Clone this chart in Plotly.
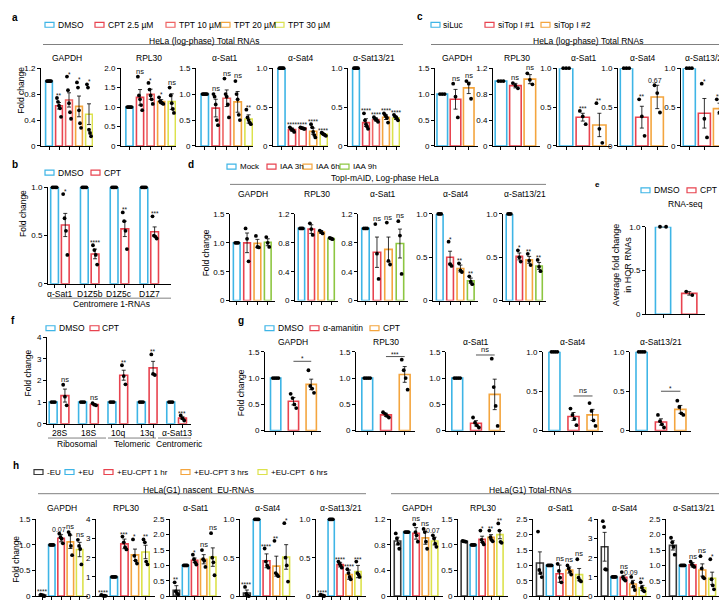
import plotly.graph_objects as go

W, H = 727, 602
FONT = "Liberation Sans, Arial, Helvetica, sans-serif"

BLUE = "#3EB5E6"
RED = "#E8434F"
SALMON = "#EF6464"
ORANGE = "#F4A53E"
YELLOW = "#DCE24C"
GREEN = "#8DC641"
GREY = "#3A3A3A"

GENES5 = ["GAPDH", "RPL30", "α-Sat1", "α-Sat4", "α-Sat13/21"]

# ---------------- panel a ----------------
A_LABELS = ["DMSO", "CPT 2.5 µM", "TPT 10 µM", "TPT 20 µM", "TPT 30 µM"]
A_YTICKS = [[0, 0.4, 0.8, 1.2], [0, 0.5, 1, 1.5, 2], [0, 0.5, 1, 1.5], [0, 0.5, 1], [0, 0.5, 1]]
A_MEAN = [
    [1.00, 0.62, 0.71, 0.61, 0.49],
    [1.00, 1.25, 1.33, 1.14, 1.14],
    [1.00, 0.73, 0.92, 0.85, 0.52],
    [1.00, 0.21, 0.23, 0.19, 0.15],
    [1.00, 0.30, 0.34, 0.37, 0.36],
]
A_SEM = [
    [0.00, 0.05, 0.11, 0.16, 0.16],
    [0.00, 0.20, 0.13, 0.05, 0.20],
    [0.00, 0.17, 0.16, 0.20, 0.08],
    [0.00, 0.02, 0.01, 0.04, 0.01],
    [0.00, 0.05, 0.02, 0.03, 0.02],
]
A_PTS = [
    [[1, 1, 1, 1, 1], [0.74, 0.68, 0.62, 0.58, 0.45], [1.07, 0.86, 0.66, 0.52, 0.42], [0.98, 0.90, 0.55, 0.35, 0.28], [0.95, 0.90, 0.25, 0.20, 0.15]],
    [[1, 1, 1, 1, 1], [1.78, 1.30, 1.20, 1.05, 0.92], [1.62, 1.45, 1.30, 1.20, 1.08], [1.25, 1.15, 1.12, 1.10, 1.08], [1.50, 1.30, 1.10, 0.95, 0.85]],
    [[1, 1, 1, 1, 1], [1.00, 0.95, 0.80, 0.50, 0.40], [1.30, 1.00, 0.95, 0.80, 0.55], [1.25, 1.00, 0.90, 0.60, 0.50], [0.70, 0.55, 0.50, 0.45, 0.42]],
    [[1, 1, 1, 1, 1], [0.24, 0.22, 0.21, 0.20, 0.18], [0.24, 0.23, 0.23, 0.22, 0.22], [0.28, 0.24, 0.18, 0.14, 0.11], [0.17, 0.16, 0.15, 0.14, 0.13]],
    [[1, 1, 1, 1, 1], [0.42, 0.33, 0.28, 0.25, 0.22], [0.37, 0.35, 0.34, 0.33, 0.31], [0.42, 0.40, 0.38, 0.36, 0.30], [0.40, 0.38, 0.37, 0.35, 0.33]],
]
A_SIG = [
    ["", "**", "*", "*", "*"],
    ["", "ns", "*", "*", "ns"],
    ["", "ns", "ns", "ns", "**"],
    ["", "****", "****", "****", "****"],
    ["", "****", "****", "****", "****"],
]

# ---------------- panel c ----------------
C_LABELS = ["siLuc", "siTop I #1", "siTop I #2"]
C_YTICKS = [[0, 0.5, 1, 1.5], [0, 0.4, 0.8, 1.2], [0, 0.5, 1], [0, 0.5, 1], [0, 0.5, 1]]
C_MEAN = [[1, 0.90, 1.12], [1, 0.93, 1.03], [1, 0.37, 0.27], [1, 0.37, 0.63], [1, 0.42, 0.48]]
C_SEM = [[0, 0.19, 0.11], [0, 0.035, 0.07], [0, 0.05, 0.15], [0, 0.14, 0.15], [0, 0.19, 0.07]]
C_PTS = [
    [[1, 1, 1], [1.20, 0.95, 0.55], [1.25, 1.20, 0.91]],
    [[1, 1, 1], [0.97, 0.93, 0.89], [1.12, 1.02, 0.95]],
    [[1, 1, 1], [0.45, 0.38, 0.28], [0.55, 0.22, 0.04]],
    [[1, 1, 1], [0.60, 0.38, 0.13], [0.78, 0.68, 0.43]],
    [[1, 1, 1], [0.80, 0.35, 0.11], [0.60, 0.43, 0.41]],
]
C_SIG = [["", "ns", "ns"], ["", "ns", "ns"], ["", "***", "**"], ["", "**", "0.67"], ["", "*", "**"]]

# ---------------- panel b ----------------
B_LABELS = ["DMSO", "CPT"]
B_GENES = ["α-Sat1", "D1Z5b", "D1Z5c", "D1Z7"]
B_YTICKS = [0, 0.5, 1]
B_DMSO_MEAN = [1, 1, 1, 1]
B_DMSO_PTS = [[1, 1, 1, 1], [1, 1, 1, 1], [1, 1, 1, 1], [1, 1, 1, 1]]
B_CPT_MEAN = [0.61, 0.31, 0.57, 0.54]
B_CPT_SEM = [0.12, 0.05, 0.08, 0.05]
B_CPT_PTS = [[0.93, 0.68, 0.55, 0.30], [0.40, 0.35, 0.30, 0.20], [0.74, 0.65, 0.55, 0.36], [0.70, 0.50, 0.49, 0.47]]
B_SIG = ["*", "****", "**", "***"]

# ---------------- panel d ----------------
D_LABELS = ["Mock", "IAA 3h", "IAA 6h", "IAA 9h"]
D_YTICKS = [[0, 0.5, 1, 1.5], [0, 0.4, 0.8, 1.2], [0, 0.4, 0.8, 1.2], [0, 0.5, 1], [0, 0.5, 1]]
D_MEAN = [[1, 1.00, 0.99, 1.01], [1, 0.99, 0.95, 0.86], [1, 0.67, 0.71, 0.79], [1, 0.50, 0.37, 0.23], [1, 0.51, 0.47, 0.40]]
D_SEM = [[0, 0.17, 0.07, 0.06], [0, 0.06, 0.02, 0.01], [0, 0.21, 0.17, 0.20], [0, 0.07, 0.04, 0.03], [0, 0.04, 0.04, 0.04]]
D_PTS = [
    [[1, 1, 1], [1.25, 1.07, 0.68], [1.12, 0.93, 0.92], [1.10, 1.00, 0.93]],
    [[1, 1, 1], [1.07, 0.99, 0.91], [0.97, 0.95, 0.93], [0.87, 0.86, 0.85]],
    [[1, 1, 1], [1.06, 0.65, 0.30], [1.08, 0.55, 0.50], [1.10, 0.90, 0.37]],
    [[1, 1, 1], [0.68, 0.42, 0.40], [0.43, 0.35, 0.33], [0.28, 0.22, 0.19]],
    [[1, 1, 1], [0.58, 0.50, 0.45], [0.54, 0.46, 0.41], [0.47, 0.39, 0.34]],
]
D_SIG = [["", "", "", ""], ["", "", "", ""], ["", "ns", "ns", "ns"], ["", "*", "**", "**"], ["", "*", "**", "**"]]

# ---------------- panel e ----------------
E_LABELS = ["DMSO", "CPT"]
E_YTICKS = [0, 0.5, 1]
E_MEAN = [1.0, 0.24]
E_SEM = [0.0, 0.02]
E_PTS = [[1.0, 1.0], [0.26, 0.22]]

# ---------------- panel f ----------------
F_LABELS = ["DMSO", "CPT"]
F_GENES = ["28S", "18S", "10q", "13q", "α-Sat13"]
F_CLASSES = ["Ribosomal", "Telomeric", "Centromeric"]
F_YTICKS = [0, 1, 2, 3, 4]
F_DMSO_MEAN = [1, 1, 1, 1, 1]
F_DMSO_PTS = [[1, 1, 1], [1, 1, 1], [1, 1, 1], [1, 1, 1], [1, 1, 1]]
F_CPT_MEAN = [1.30, 0.89, 2.24, 2.58, 0.26]
F_CPT_SEM = [0.30, 0.03, 0.23, 0.30, 0.06]
F_CPT_PTS = [[1.80, 1.25, 0.85], [0.95, 0.88, 0.85], [2.70, 2.20, 1.82], [3.20, 2.30, 2.25], [0.38, 0.25, 0.15]]
F_SIG = ["ns", "ns", "**", "**", "***"]

# ---------------- panel g ----------------
G_LABELS = ["DMSO", "α-amanitin", "CPT"]
G_YTICKS = [[0, 0.5, 1, 1.5], [0, 0.5, 1, 1.5], [0, 0.5, 1, 1.5], [0, 0.5, 1], [0, 0.5, 1]]
G_MEAN = [[1, 0.56, 0.88], [1, 0.30, 1.07], [1, 0.14, 0.69], [1, 0.18, 0.20], [1, 0.11, 0.27]]
G_SEM = [[0, 0.07, 0.10], [0, 0.03, 0.15], [0, 0.05, 0.29], [0, 0.05, 0.07], [0, 0.04, 0.05]]
G_PTS = [
    [[1, 1, 1, 1], [0.70, 0.62, 0.50, 0.43], [1.15, 0.85, 0.80, 0.72]],
    [[1, 1, 1, 1], [0.35, 0.32, 0.28, 0.25], [1.35, 1.15, 1.00, 0.78]],
    [[1, 1, 1, 1], [0.25, 0.15, 0.10, 0.06], [1.37, 0.83, 0.47, 0.09]],
    [[1, 1, 1, 1], [0.28, 0.20, 0.15, 0.07], [0.35, 0.25, 0.13, 0.06]],
    [[1, 1, 1, 1], [0.20, 0.12, 0.08, 0.04], [0.38, 0.30, 0.22, 0.20]],
]
G_BRACKET = [1.32, 1.41, 1.44, 0.44, 0.50]
G_BSIG = ["*", "***", "ns", "ns", "*"]

# ---------------- panel h ----------------
H_LABELS = ["-EU", "+EU", "+EU-CPT 1 hr", "+EU-CPT 3 hrs", "+EU-CPT  6 hrs"]
HL_YTICKS = [[0, 0.5, 1, 1.5], [0, 1, 2, 3, 4], [0, 0.5, 1, 1.5, 2, 2.5], [0, 0.5, 1], [0, 0.5, 1]]
HL_MEAN = [
    [0.02, 1.0, 1.13, 1.06, 0.91],
    [0.03, 1.0, 2.72, 2.15, 2.30],
    [0.19, 1.0, 1.17, 1.20, 1.27],
    [0.04, 1.0, 0.46, 0.39, 0.51],
    [0.01, 1.0, 0.41, 0.28, 0.32],
]
HL_SEM = [
    [0.02, 0, 0.07, 0.13, 0.14],
    [0.03, 0, 0.25, 0.30, 0.35],
    [0.15, 0, 0.07, 0.15, 0.30],
    [0.04, 0, 0.09, 0.13, 0.16],
    [0.01, 0, 0.03, 0.06, 0.08],
]
HL_PTS = [
    [[0.03, 0.02, 0.01, 0.00], [1, 1, 1, 1], [1.22, 1.15, 1.12, 1.03], [1.25, 1.20, 0.98, 0.80], [1.10, 0.98, 0.92, 0.62]],
    [[0.06, 0.03, 0.02, 0.01], [1, 1, 1, 1], [3.10, 2.80, 2.55, 2.43], [2.95, 2.10, 1.85, 1.70], [2.95, 2.80, 1.80, 1.65]],
    [[0.45, 0.15, 0.10, 0.06], [1, 1, 1, 1], [1.35, 1.20, 1.10, 1.03], [1.50, 1.20, 1.15, 0.95], [2.05, 1.25, 1.10, 0.68]],
    [[0.12, 0.03, 0.01, 0.00], [1, 1, 1, 1], [0.62, 0.45, 0.40, 0.37], [0.72, 0.30, 0.28, 0.26], [0.95, 0.50, 0.40, 0.19]],
    [[0.02, 0.01, 0.01, 0.00], [1, 1, 1, 1], [0.45, 0.42, 0.40, 0.37], [0.35, 0.30, 0.25, 0.22], [0.45, 0.30, 0.28, 0.25]],
]
HL_SIG = [
    ["****", "", "0.07", "ns", "ns"],
    ["****", "", "***", "*", "**"],
    ["**", "", "*", "ns", "ns"],
    ["****", "", "****", "**", "*"],
    ["****", "", "****", "****", "***"],
]
HR_YTICKS = [[0, 0.4, 0.8, 1.2], [0, 0.5, 1, 1.5], [0, 0.5, 1, 1.5, 2, 2.5], [0, 1, 2, 3, 4], [0, 0.5, 1, 1.5, 2, 2.5]]
HR_MEAN = [
    [0.86, 1.0, 0.98, 0.91, 0.86],
    [1.07, 1.0, 1.11, 1.15, 1.20],
    [1.08, 1.0, 0.73, 0.85, 0.70],
    [2.57, 1.0, 0.98, 0.63, 0.43],
    [1.65, 1.0, 1.02, 0.85, 0.58],
]
HR_SEM = [
    [0.06, 0, 0.09, 0.10, 0.06],
    [0.01, 0, 0.06, 0.05, 0.08],
    [0.36, 0, 0.28, 0.10, 0.20],
    [0.75, 0, 0.10, 0.19, 0.13],
    [0.15, 0, 0.07, 0.20, 0.20],
]
HR_PTS = [
    [[0.98, 0.90, 0.82, 0.74], [1, 1, 1, 1], [1.12, 1.00, 0.95, 0.85], [1.05, 1.00, 0.85, 0.74], [0.95, 0.90, 0.82, 0.77]],
    [[1.08, 1.07, 1.07, 1.06], [1, 1, 1, 1], [1.28, 1.10, 1.05, 1.01], [1.28, 1.15, 1.10, 1.07], [1.42, 1.28, 1.06, 1.04]],
    [[2.10, 0.85, 0.75, 0.62], [1, 1, 1, 1], [1.05, 0.82, 0.60, 0.45], [1.00, 0.90, 0.80, 0.70], [1.20, 0.60, 0.52, 0.48]],
    [[3.90, 3.60, 1.40, 1.38], [1, 1, 1, 1], [1.25, 0.98, 0.88, 0.81], [1.00, 0.70, 0.50, 0.32], [0.72, 0.45, 0.30, 0.25]],
    [[1.90, 1.75, 1.60, 1.35], [1, 1, 1, 1], [1.12, 1.03, 0.98, 0.95], [1.30, 0.90, 0.62, 0.58], [1.20, 0.55, 0.35, 0.22]],
]
HR_SIG = [
    ["", "", "ns", "ns", "0.07"],
    ["", "", "*", "**", "**"],
    ["", "", "ns", "ns", "ns"],
    ["", "", "ns", "0.09", "**"],
    ["", "", "ns", "ns", "*"],
]

# ---------------- layout boxes (pixels) ----------------
A_BOX = [(33, 85), (113, 168), (188, 245), (265, 320), (340, 392)]
C_BOX = [(427, 470), (485, 532), (549, 603), (610, 660), (673, 722)]
D_BOX = [(222, 267), (287, 330), (350, 400), (425, 470), (495, 538)]
G_BOX = [(257, 313), (348, 407), (438, 497), (535, 595), (622, 683)]
HL_BOX = [(28, 80), (88, 147), (162, 213), (232, 287), (308, 358)]
HR_BOX = [(383, 435), (450, 500), (525, 580), (590, 643), (658, 713)]

OFFS = {2: [-0.2, 0.2], 3: [-0.22, 0.0, 0.22], 4: [-0.27, -0.09, 0.09, 0.27], 5: [-0.3, -0.15, 0.0, 0.15, 0.3]}

fig = go.Figure()
axis_n = [0]


def fmt_ticks(ticks):
    if all(float(t).is_integer() for t in ticks) and max(ticks) > 1:
        return [str(int(t)) for t in ticks]
    return ["0" if t == 0 else f"{t:.1f}" for t in ticks]


def text(x, y, s, size=8.5, xanchor="center", yanchor="middle", **kw):
    fig.add_annotation(x=x / W, y=1 - y / H, xref="paper", yref="paper", text=s,
                       showarrow=False, font=dict(size=size, color="black"),
                       xanchor=xanchor, yanchor=yanchor, **kw)


def hline(x0, x1, y, color="#808080"):
    fig.add_shape(type="line", xref="paper", yref="paper", x0=x0 / W, x1=x1 / W,
                  y0=1 - y / H, y1=1 - y / H, line=dict(color=color, width=1))


def legend(y, items, size=8):
    for label, color, bx in items:
        fig.add_shape(type="rect", xref="paper", yref="paper", x0=bx / W, x1=(bx + 9) / W,
                      y0=1 - (y + 2.5) / H, y1=1 - (y - 2.5) / H,
                      line=dict(color=color, width=1.2), fillcolor="white")
        text(bx + 10.5, y, label, size=size, xanchor="left")


def add_axes(box, ytop, ybot, xrange, xticks, yticks):
    axis_n[0] += 1
    n = axis_n[0]
    sfx = "" if n == 1 else str(n)
    x0, x1 = box
    common = dict(showline=True, linecolor="black", linewidth=1, ticks="outside", ticklen=3,
                  tickwidth=1, tickcolor="black", showgrid=False, zeroline=False, fixedrange=True)
    fig.update_layout(**{
        "xaxis" + sfx: dict(domain=[x0 / W, x1 / W], anchor="y" + sfx, range=xrange,
                            tickmode="array", tickvals=xticks, showticklabels=False, **common),
        "yaxis" + sfx: dict(domain=[1 - ybot / H, 1 - ytop / H], anchor="x" + sfx,
                            range=[0, yticks[-1]], tickmode="array", tickvals=yticks,
                            ticktext=fmt_ticks(yticks), tickfont=dict(size=8, color="black"),
                            **common),
    })
    return "x" + sfx, "y" + sfx


def sig_font(t):
    if "*" in t:
        return 6.5
    if t == "ns":
        return 7.5
    return 7


def add_bars(xr, yr, pos, width, colors, mean, sem, pts, sig):
    fig.add_trace(go.Bar(x=pos, y=mean, width=width, xaxis=xr, yaxis=yr,
                         marker=dict(color="white", line=dict(color=colors, width=1.6)),
                         error_y=dict(type="data", array=sem, visible=True, color="black",
                                      thickness=0.8, width=2),
                         showlegend=False, cliponaxis=False, hoverinfo="skip"))
    xs, ys = [], []
    for p, vals in zip(pos, pts):
        for o, v in zip(OFFS[len(vals)], vals):
            xs.append(p + o * width)
            ys.append(v)
    fig.add_trace(go.Scatter(x=xs, y=ys, mode="markers", xaxis=xr, yaxis=yr,
                             marker=dict(size=3.8, color="black"), showlegend=False,
                             cliponaxis=False, hoverinfo="skip"))
    for p, m, s, vals, t in zip(pos, mean, sem, pts, sig):
        if t:
            top = max(max(vals), m + s)
            star = "*" in t
            fig.add_annotation(x=p, y=top, xref=xr, yref=yr, text=t, showarrow=False,
                               xanchor="center", yanchor="bottom", borderpad=0,
                               font=dict(size=sig_font(t), color="#111111"),
                               xshift=-2 if t[0].isdigit() else 0,
                               yshift=-2 if star else 0)


def panel_row(boxes, ytop, ybot, title_y, xrange, width, colors, yticks, mean, sem, pts, sig):
    refs = []
    for i, box in enumerate(boxes):
        n = len(mean[i])
        pos = list(range(n))
        xr, yr = add_axes(box, ytop, ybot, xrange, pos, yticks[i])
        add_bars(xr, yr, pos, width, colors, mean[i], sem[i], pts[i], sig[i])
        text((box[0] + box[1]) / 2, title_y, GENES5[i])
        refs.append((xr, yr))
    return refs


# ---------------- panel a ----------------
text(7, 6, "<b>a</b>", size=10)
legend(13, list(zip(A_LABELS, [BLUE, RED, SALMON, ORANGE, YELLOW], [37, 87, 158, 213, 267])), size=8.5)
text(196, 29, "HeLa (log-phase) Total RNAs")
hline(35, 395, 33)
panel_row(A_BOX, 57, 136, 47, [-0.8, 4.4], 0.68, [BLUE, RED, SALMON, ORANGE, YELLOW],
          A_YTICKS, A_MEAN, A_SEM, A_PTS, A_SIG)
text(13, 80, "Fold change", textangle=-90)

# ---------------- panel c ----------------
text(412, 5, "<b>c</b>", size=10)
legend(13, list(zip(C_LABELS, [BLUE, RED, ORANGE], [423, 477, 533])), size=8.5)
text(580, 29, "HeLa (log-phase) Total RNAs")
hline(423, 725, 33)
panel_row(C_BOX, 57, 136, 47, [-0.55, 2.7], 0.8, [BLUE, RED, ORANGE],
          C_YTICKS, C_MEAN, C_SEM, C_PTS, C_SIG)

# ---------------- panel b ----------------
text(7, 155, "<b>b</b>", size=10)
legend(163, list(zip(B_LABELS, [BLUE, RED], [37, 83])), size=8.5)
xr, yr = add_axes((40, 163), 178, 276, [-0.4, 3.73],
                  [g + d for g in range(4) for d in (-0.18, 0.18)], B_YTICKS)
b_pos, b_mean, b_sem, b_pts, b_sig, b_col = [], [], [], [], [], []
for g in range(4):
    b_pos += [g - 0.18, g + 0.18]
    b_mean += [B_DMSO_MEAN[g], B_CPT_MEAN[g]]
    b_sem += [0, B_CPT_SEM[g]]
    b_pts += [B_DMSO_PTS[g], B_CPT_PTS[g]]
    b_sig += ["", B_SIG[g]]
    b_col += [BLUE, RED]
add_bars(xr, yr, b_pos, 0.26, b_col, b_mean, b_sem, b_pts, b_sig)
for g, name in enumerate(B_GENES):
    fig.add_annotation(x=g, y=1 - 286 / H, xref=xr, yref="paper", text=name, showarrow=False,
                       xanchor="center", yanchor="middle", font=dict(size=8.5, color="black"))
hline(42, 163, 290.5)
text(103, 296, "Centromere 1-RNAs")
text(15, 205, "Fold change", textangle=-90)

# ---------------- panel d ----------------
text(183, 155, "<b>d</b>", size=10)
legend(157, list(zip(D_LABELS, [BLUE, RED, ORANGE, GREEN], [219, 259, 295, 332])), size=8)
text(377, 169, "TopI-mAID, Log-phase HeLa")
hline(222, 538, 175)
panel_row(D_BOX, 205, 293, 185, [-0.65, 3.7], 0.65, [BLUE, RED, ORANGE, GREEN],
          D_YTICKS, D_MEAN, D_SEM, D_PTS, D_SIG)
text(198, 245, "Fold change", textangle=-90)

# ---------------- panel e ----------------
text(589, 175, "<b>e</b>", size=8)
legend(181, list(zip(E_LABELS, [BLUE, RED], [633, 679])), size=8.5)
text(677, 195, "RNA-seq")
xr, yr = add_axes((638, 697), 218, 307, [-0.65, 1.6], [0, 1], E_YTICKS)
add_bars(xr, yr, [0, 1], 0.58, [BLUE, RED], E_MEAN, E_SEM, E_PTS, ["", ""])
text(614, 257, "Average fold change<br>in HOR RNAs", size=9, textangle=-90)

# ---------------- panel f ----------------
text(5, 313, "<b>f</b>", size=10)
legend(321, list(zip(F_LABELS, [BLUE, RED], [38, 82])), size=8.5)
xr, yr = add_axes((39, 183), 330, 418, [-0.41, 4.49],
                  [g + d for g in range(5) for d in (-0.2, 0.2)], F_YTICKS)
f_pos, f_mean, f_sem, f_pts, f_sig, f_col = [], [], [], [], [], []
for g in range(5):
    f_pos += [g - 0.2, g + 0.2]
    f_mean += [F_DMSO_MEAN[g], F_CPT_MEAN[g]]
    f_sem += [0, F_CPT_SEM[g]]
    f_pts += [F_DMSO_PTS[g], F_CPT_PTS[g]]
    f_sig += ["", F_SIG[g]]
    f_col += [BLUE, RED]
add_bars(xr, yr, f_pos, 0.27, f_col, f_mean, f_sem, f_pts, f_sig)
for g, name in enumerate(F_GENES):
    fig.add_annotation(x=g, y=1 - 427 / H, xref=xr, yref="paper", text=name, showarrow=False,
                       xanchor="center", yanchor="middle", font=dict(size=8.5, color="black"))
for (lx0, lx1), name in zip([(40, 98), (100, 148), (150, 183)], F_CLASSES):
    hline(lx0, lx1, 432.5)
    text((lx0 + lx1) / 2 + (5 if name == "Centromeric" else 0), 438.5, name)
text(20, 367, "Fold change", textangle=-90)

# ---------------- panel g ----------------
text(233, 313, "<b>g</b>", size=10)
legend(321, list(zip(G_LABELS, [BLUE, RED, ORANGE], [257, 302, 362])), size=8.5)
g_refs = panel_row(G_BOX, 345, 425, 335, [-0.6, 2.55], 0.58, [BLUE, RED, ORANGE],
                   G_YTICKS, G_MEAN, G_SEM, G_PTS, [["", "", ""]] * 5)
for (xr, yr), yb, s in zip(g_refs, G_BRACKET, G_BSIG):
    fig.add_shape(type="line", xref=xr, yref=yr, x0=1, x1=2, y0=yb, y1=yb,
                  line=dict(color="#555", width=1))
    fig.add_annotation(x=1.5, y=yb, xref=xr, yref=yr, text=s, showarrow=False,
                       xanchor="center", yanchor="bottom", borderpad=0,
                       yshift=-2 if "*" in s else 0,
                       font=dict(size=sig_font(s), color="#111111"))
text(233, 387, "Fold change", textangle=-90)

# ---------------- panel h ----------------
text(8, 460, "<b>h</b>", size=10)
legend(467, list(zip(H_LABELS, [GREY, BLUE, RED, ORANGE, YELLOW], [26, 57, 96, 173, 250])), size=8)
text(190, 485, "HeLa(G1) nascent  EU-RNAs")
hline(30, 358, 489)
text(522, 485, "HeLa(G1) Total-RNAs")
hline(383, 713, 489)
H_COLORS = [GREY, BLUE, RED, ORANGE, YELLOW]
panel_row(HL_BOX, 515, 593, 504, [-0.7, 4.9], 0.7, H_COLORS, HL_YTICKS, HL_MEAN, HL_SEM, HL_PTS, HL_SIG)
panel_row(HR_BOX, 515, 593, 504, [-0.7, 4.9], 0.7, H_COLORS, HR_YTICKS, HR_MEAN, HR_SEM, HR_PTS, HR_SIG)
text(8, 556, "Fold change", textangle=-90)

fig.update_layout(width=W, height=H, margin=dict(l=0, r=0, t=0, b=0),
                  paper_bgcolor="white", plot_bgcolor="white",
                  font=dict(family=FONT, size=8.5, color="black"),
                  showlegend=False, barmode="overlay")

fig.write_html("out.html")
